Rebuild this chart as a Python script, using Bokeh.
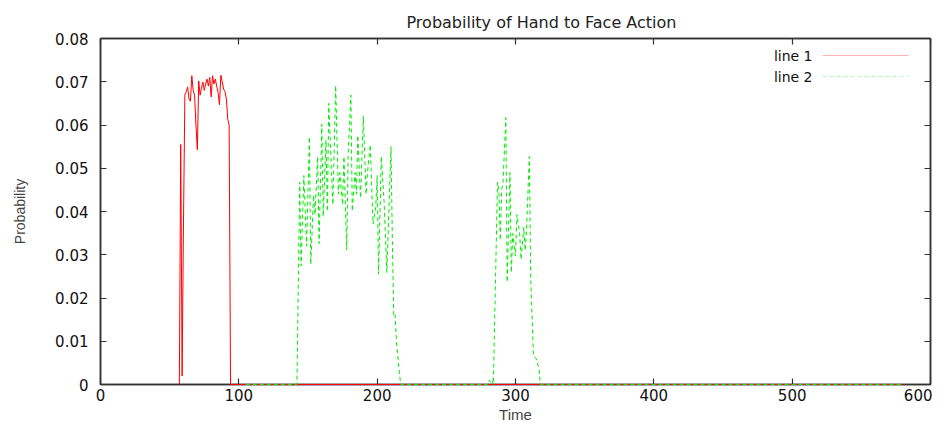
from bokeh.plotting import figure
from bokeh.models import LinearAxis, FixedTicker, Range1d, Label, PolyAnnotation
from bokeh.embed import file_html
from bokeh.resources import INLINE

title_text = "Probability of Hand to Face Action"
x_label = "Time"
y_label = "Probability"

x_ticks = [0, 100, 200, 300, 400, 500, 600]
y_ticks = [0, 0.01, 0.02, 0.03, 0.04, 0.05, 0.06, 0.07, 0.08]
y_tick_labels = ["0", "0.01", "0.02", "0.03", "0.04", "0.05", "0.06", "0.07", "0.08"]

series_names = ["line 1", "line 2"]

line1_time = [57, 58, 59, 60, 61, 62, 63, 64, 65, 66, 67, 68, 69, 70, 71, 72, 73, 74, 75,
              76, 77, 78, 79, 80, 81, 82, 83, 84, 85, 86, 87, 88, 89, 90, 91, 92, 93, 94,
              580]
line1_prob = [0.0, 0.0555, 0.002, 0.038, 0.067, 0.0677, 0.0688, 0.066, 0.0655, 0.0714,
              0.068, 0.0669, 0.060, 0.0543, 0.0702, 0.0669, 0.0685, 0.0699, 0.068, 0.0695,
              0.0706, 0.069, 0.071, 0.0665, 0.0714, 0.0695, 0.0706, 0.069, 0.0675, 0.0647,
              0.0715, 0.070, 0.0683, 0.0677, 0.066, 0.0613, 0.060, 0.0,
              0.0]

line2_time = [105, 142, 144, 145, 147, 149, 151, 152, 154, 155, 157, 158, 160, 161, 163,
              164, 165, 167, 168, 170, 172, 173, 175, 176, 178, 179, 181, 182, 184, 185,
              186, 188, 190, 192, 193, 195, 197, 199, 200, 201, 203, 205, 207, 210, 211,
              212, 213, 214, 216, 217,
              280, 281, 282, 283, 284, 287, 288, 289, 290, 291, 293, 294, 296, 297, 298, 300,
              301, 303, 304, 306, 307, 308, 310, 311, 313, 315, 317, 318,
              580]
line2_prob = [0.0, 0.0, 0.0468, 0.0274, 0.0483, 0.032, 0.0572, 0.0278, 0.0438, 0.0393,
              0.0527, 0.0326, 0.0602, 0.0388, 0.0565, 0.040, 0.065, 0.049, 0.0416, 0.0691,
              0.044, 0.049, 0.0416, 0.0527, 0.0311, 0.0527, 0.0669, 0.0401, 0.049, 0.044,
              0.0576, 0.0431, 0.0621, 0.044, 0.049, 0.0554, 0.0371, 0.041, 0.0483, 0.0255,
              0.0527, 0.0423, 0.0259, 0.055, 0.033, 0.0156, 0.016, 0.0096, 0.003, 0.0,
              0.0, 0.001, 0.0005, 0.001, 0.0, 0.0468, 0.045, 0.0334, 0.045, 0.0468, 0.0617,
              0.0237, 0.049, 0.0259, 0.0349, 0.0297, 0.0393, 0.0349, 0.0289, 0.0364, 0.031,
              0.036, 0.0527, 0.0244, 0.0065, 0.006, 0.0035, 0.0,
              0.0]

FONT = "DejaVu Sans"
LABEL_FONT = "Liberation Sans"
AXIS_COLOR = "#333333"
RED = "#ff0000"
GREEN = "#00ee00"

p = figure(width=932, height=425, output_backend="svg", toolbar_location=None,
           x_range=Range1d(0, 600), y_range=Range1d(0, 0.08),
           min_border_left=100, min_border_right=2, min_border_top=38, min_border_bottom=29,
           title=title_text, background_fill_color="white", border_fill_color="white")

p.title.align = "left"
p.title.offset = 306
p.title.text_font = FONT
p.title.text_font_size = "16px"
p.title.text_font_style = "normal"
p.title.text_color = "#222222"
p.title.standoff = 14

p.xgrid.visible = False
p.ygrid.visible = False
p.outline_line_color = AXIS_COLOR
p.outline_line_width = 1.5

def style_axis(ax, show_labels=True):
    ax.axis_line_color = AXIS_COLOR
    ax.axis_line_width = 1.5
    ax.major_tick_line_color = AXIS_COLOR
    ax.major_tick_line_width = 1.2
    ax.major_tick_in = 6
    ax.major_tick_out = 0
    ax.minor_tick_line_color = None
    if show_labels:
        ax.major_label_text_font = FONT
        ax.major_label_text_font_size = "15px"
        ax.major_label_text_color = "#111111"
    else:
        ax.major_label_text_font_size = "1px"
        ax.major_label_text_color = None
        ax.major_label_standoff = 0

xa = p.xaxis[0]
xa.ticker = FixedTicker(ticks=x_ticks)
style_axis(xa)
xa.major_label_standoff = 4
xa.axis_label = x_label
xa.axis_label_text_font = LABEL_FONT
xa.axis_label_text_font_size = "15px"
xa.axis_label_text_font_style = "normal"
xa.axis_label_standoff = 2

ya = p.yaxis[0]
ya.ticker = FixedTicker(ticks=y_ticks)
ya.major_label_overrides = dict(zip(y_ticks, y_tick_labels))
style_axis(ya)
ya.major_label_standoff = 12
ya.axis_label = y_label
ya.axis_label_text_font = LABEL_FONT
ya.axis_label_text_font_size = "14px"
ya.axis_label_text_font_style = "normal"
ya.axis_label_standoff = 24

top_ax = LinearAxis(ticker=FixedTicker(ticks=x_ticks))
style_axis(top_ax, show_labels=False)
p.add_layout(top_ax, "above")

right_ax = LinearAxis(ticker=FixedTicker(ticks=y_ticks))
style_axis(right_ax, show_labels=False)
p.add_layout(right_ax, "right")

p.line(line1_time, line1_prob, line_color=RED, line_width=1, level="overlay")
p.line(line2_time, line2_prob, line_color=GREEN, line_width=1, line_dash="4 3",
       level="overlay")

# gnuplot-style key: label text, then a line sample to its right (screen units, frame-relative)
key_rows_y = [329, 308]
key_colors = [RED, GREEN]
key_dashes = ["solid", "4 3"]
for name, ky, kc, kd in zip(series_names, key_rows_y, key_colors, key_dashes):
    p.add_layout(Label(x=712, y=ky, x_units="screen", y_units="screen", text=name,
                       text_font=FONT, text_font_size="14px", text_align="right",
                       text_baseline="middle", text_color="#111111"))
    p.add_layout(PolyAnnotation(xs=[722, 808], ys=[ky, ky], xs_units="screen",
                                ys_units="screen", fill_color=None, fill_alpha=0,
                                line_color=kc, line_width=1, line_dash=kd))

open("out.html", "w").write(file_html(p, INLINE))
